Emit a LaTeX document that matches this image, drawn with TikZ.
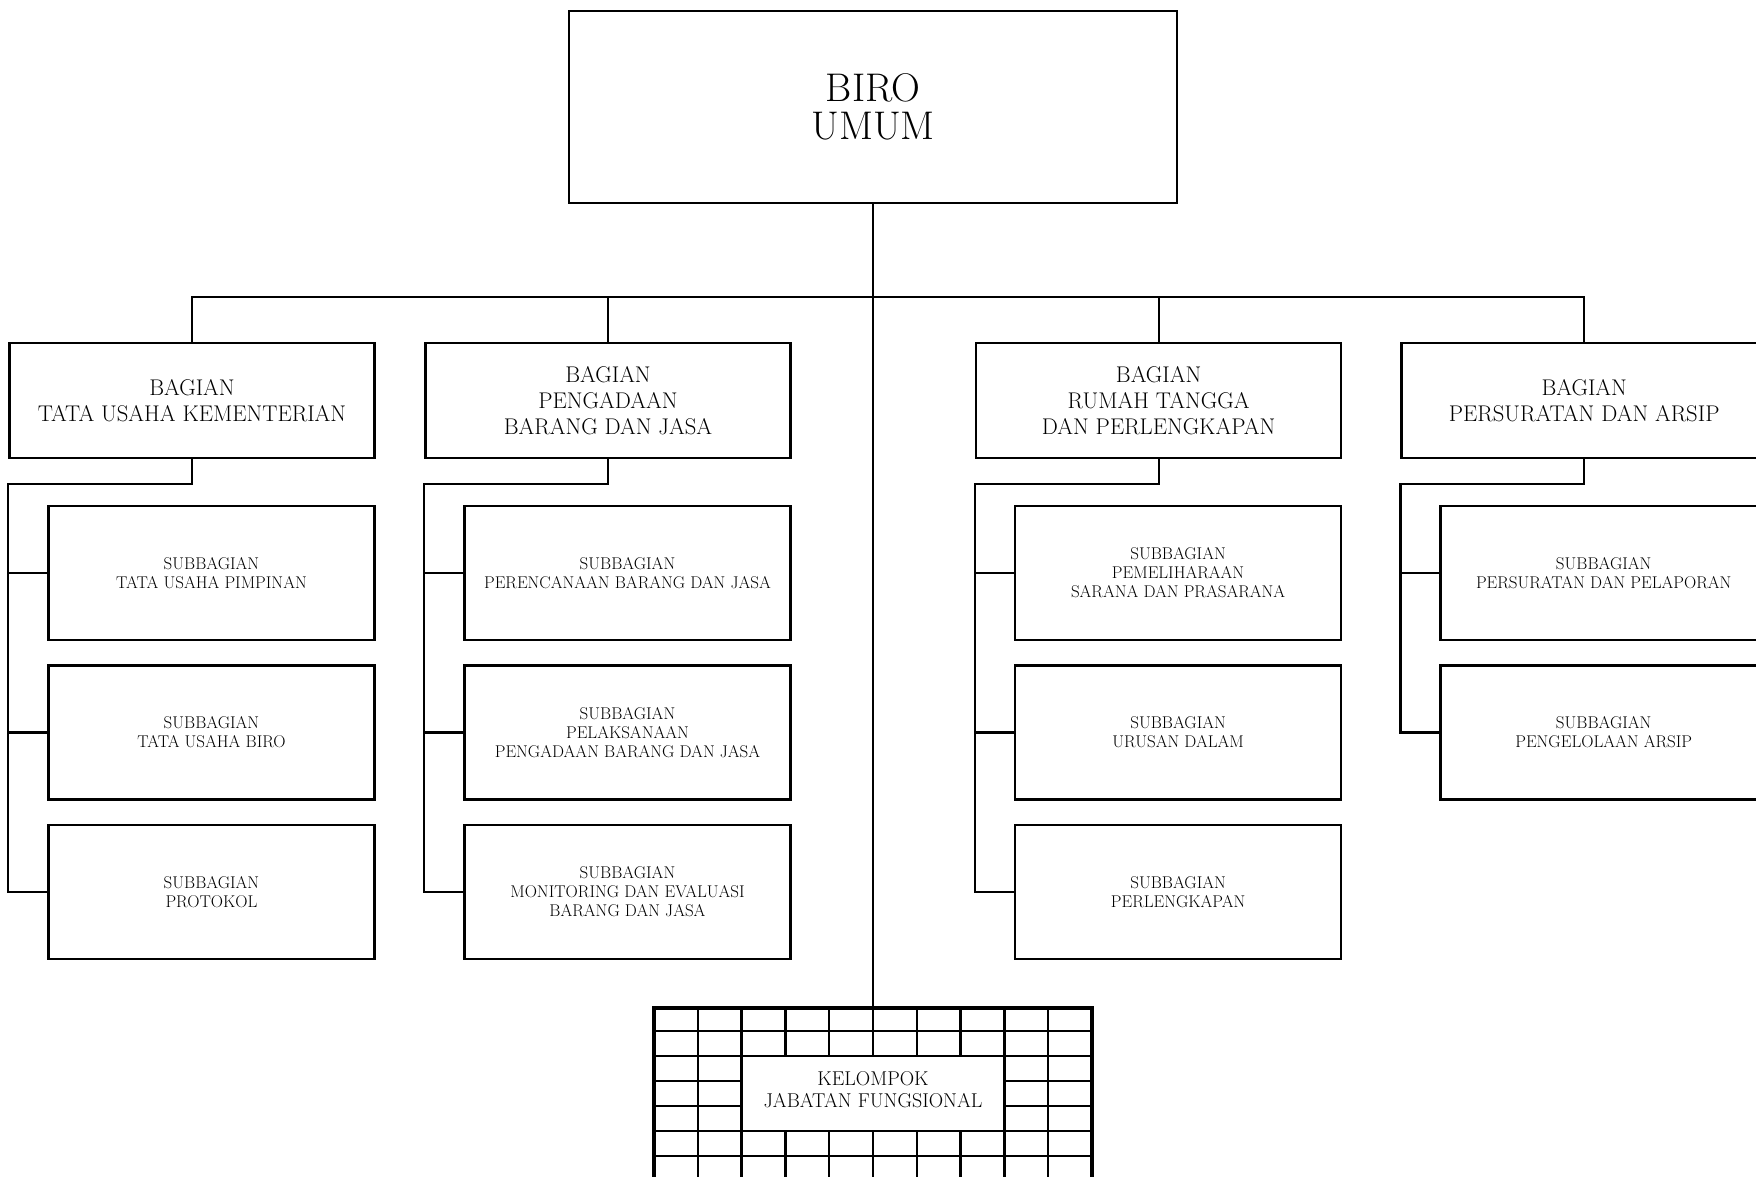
\documentclass[tikz,border=0pt]{standalone}
\usepackage{tikz}
\usetikzlibrary{positioning}

\tikzset{
  unit/.style={draw, line width=2.6pt, align=center, inner sep=0pt},
  birobox/.style={unit, minimum width=608pt, minimum height=192pt, font=\fontsize{40}{38}\selectfont},
  bagbox/.style={unit, minimum width=365pt, minimum height=115pt, font=\fontsize{22.7}{26}\selectfont},
  subbox/.style={unit, minimum width=326pt, minimum height=134pt, font=\fontsize{17}{19}\selectfont},
  link/.style={line width=2.2pt},
  cell/.style={line width=2.4pt},
}

\begin{document}
\begin{tikzpicture}[x=1pt,y=-1pt]
   \path[use as bounding box,clip] (0,0) rectangle (1756,1177);

   \node[birobox] (biro) at (873,107) {BIRO\\UMUM};

   % bagian
   \node[bagbox] (bagTU) at (192,400.5) {BAGIAN\\TATA USAHA KEMENTERIAN};
   \node[bagbox] (bagPBJ) [right=48.4pt of bagTU] {BAGIAN\\PENGADAAN\\BARANG DAN JASA};
   \node[bagbox] (bagRT) [right=183pt of bagPBJ] {BAGIAN\\RUMAH TANGGA\\DAN PERLENGKAPAN};
   \node[bagbox] (bagArsip) [right=58pt of bagRT] {BAGIAN\\PERSURATAN DAN ARSIP};

   % subbagian
   \node[subbox] (tuPimpinan) [below=45.4pt of bagTU.south east,anchor=north east] {SUBBAGIAN\\TATA USAHA PIMPINAN};
   \node[subbox] (tuBiro) [below=22.9pt of tuPimpinan] {SUBBAGIAN\\TATA USAHA BIRO};
   \node[subbox] (protokol) [below=22.9pt of tuBiro] {SUBBAGIAN\\PROTOKOL};

   \node[subbox] (rencana) [below=45.4pt of bagPBJ.south east,anchor=north east] {SUBBAGIAN\\PERENCANAAN BARANG DAN JASA};
   \node[subbox] (laksana) [below=22.9pt of rencana] {SUBBAGIAN\\PELAKSANAAN\\PENGADAAN BARANG DAN JASA};
   \node[subbox] (monev) [below=22.9pt of laksana] {SUBBAGIAN\\MONITORING DAN EVALUASI\\BARANG DAN JASA};

   \node[subbox] (pelihara) [below=45.4pt of bagRT.south east,anchor=north east] {SUBBAGIAN\\PEMELIHARAAN\\SARANA DAN PRASARANA};
   \node[subbox] (urdal) [below=22.9pt of pelihara] {SUBBAGIAN\\URUSAN DALAM};
   \node[subbox] (lengkap) [below=22.9pt of urdal] {SUBBAGIAN\\PERLENGKAPAN};

   \node[subbox] (lapor) [below=45.4pt of bagArsip.south east,anchor=north east] {SUBBAGIAN\\PERSURATAN DAN PELAPORAN};
   \node[subbox] (kelola) [below=22.9pt of lapor] {SUBBAGIAN\\PENGELOLAAN ARSIP};

   % kelompok jabatan fungsional
   \foreach \i in {1,...,9}
     \draw[cell] (654+43.8*\i,1006) -- (654+43.8*\i,1206);
   \foreach \j in {1,...,7}
     \draw[cell] (654,1006+25*\j) -- (1092,1006+25*\j);
   \node[draw, line width=4pt, inner sep=0pt, minimum width=438pt, minimum height=200pt, anchor=north] (jf) at (873,1006) {};
   \node[unit, fill=white, line width=2.4pt, minimum width=262.8pt, minimum height=75pt, font=\fontsize{20}{22}\selectfont] (kelompok) at (873,1093.5) {KELOMPOK\\JABATAN FUNGSIONAL\\[-13pt]};

   % garis
   \coordinate (bar) at (873,297);
   \draw[link] (biro.south) -- (jf.north);
   \draw[link] (bagTU.north) |- (bar) -| (bagArsip.north);
   \draw[link] (bagPBJ.north) -- (bagPBJ.north |- bar);
   \draw[link] (bagRT.north) -- (bagRT.north |- bar);

   \draw[link] (bagTU.south) -- ++(0,25) -| (bagTU.west |- protokol.west) -- (protokol.west);
   \draw[link] (tuPimpinan.west) -- (tuPimpinan.west -| bagTU.west);
   \draw[link] (tuBiro.west) -- (tuBiro.west -| bagTU.west);

   \draw[link] (bagPBJ.south) -- ++(0,25) -| (bagPBJ.west |- monev.west) -- (monev.west);
   \draw[link] (rencana.west) -- (rencana.west -| bagPBJ.west);
   \draw[link] (laksana.west) -- (laksana.west -| bagPBJ.west);

   \draw[link] (bagRT.south) -- ++(0,25) -| (bagRT.west |- lengkap.west) -- (lengkap.west);
   \draw[link] (pelihara.west) -- (pelihara.west -| bagRT.west);
   \draw[link] (urdal.west) -- (urdal.west -| bagRT.west);

   \draw[link] (bagArsip.south) -- ++(0,25) -| (bagArsip.west |- kelola.west) -- (kelola.west);
   \draw[link] (lapor.west) -- (lapor.west -| bagArsip.west);
\end{tikzpicture}
\end{document}
